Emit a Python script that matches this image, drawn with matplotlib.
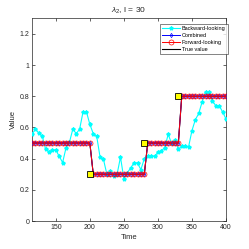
import matplotlib
matplotlib.use("Agg")
import matplotlib.pyplot as plt
from matplotlib.lines import Line2D

plt.rcParams['font.family'] = ['Liberation Sans', 'DejaVu Sans']
plt.rcParams['mathtext.fontset'] = 'custom'
plt.rcParams['mathtext.rm'] = 'Liberation Sans'
plt.rcParams['mathtext.it'] = 'Liberation Sans:italic'

time = list(range(115, 405, 5))
backward = [0.555, 0.59, 0.565, 0.545, 0.46, 0.445, 0.455, 0.455, 0.415, 0.375,
            0.47, 0.505, 0.59, 0.56, 0.59, 0.70, 0.70, 0.62, 0.56, 0.545,
            0.41, 0.395, 0.30, 0.32, 0.29, 0.30, 0.41, 0.27, 0.31, 0.34,
            0.375, 0.37, 0.33, 0.40, 0.42, 0.415, 0.415, 0.44, 0.45, 0.47,
            0.555, 0.50, 0.52, 0.46, 0.48, 0.48, 0.475, 0.58, 0.65, 0.69,
            0.765, 0.83, 0.83, 0.77, 0.74, 0.74, 0.70, 0.655]
true_value = [0.5] * 18 + [0.3] * 16 + [0.5] * 10 + [0.8] * 14
combined = list(true_value)
forward = list(true_value)
change_t = [200, 280, 330]
change_v = [0.3, 0.5, 0.8]

fig = plt.figure(figsize=(2.49, 2.49), dpi=100)
ax = fig.add_axes([0.1285, 0.1124, 0.7791, 0.8141])

h_true, = ax.plot(time, true_value, color='black', lw=0.8, zorder=2)
h_back, = ax.plot(time, backward, color='cyan', lw=0.8, marker='*', ms=2.8,
                  mec='cyan', mfc='cyan', zorder=3)
h_comb, = ax.plot(time, combined, color='blue', lw=0.7, marker='d', ms=2.2,
                  mec='blue', mfc='none', mew=0.5, zorder=4)
h_fwd, = ax.plot(time, forward, color='red', lw=0.7, marker='o', ms=3.6,
                 mec='red', mfc='none', mew=0.5, zorder=5)
ax.plot(change_t, change_v, ls='none', marker='s', ms=4.5, mfc='yellow',
        mec='black', mew=0.6, zorder=6)

ax.set_xlim(115, 400)
ax.set_ylim(0, 1.3)
ax.set_xticks([150, 200, 250, 300, 350, 400])
ax.set_yticks([0, 0.2, 0.4, 0.6, 0.8, 1.0, 1.2])
ax.set_yticklabels(['0', '0.2', '0.4', '0.6', '0.8', '1', '1.2'])
ax.tick_params(direction='in', length=2, width=0.5, labelsize=5, colors='#262626',
               top=True, right=True, pad=2)
for s in ax.spines.values():
    s.set_linewidth(0.5)
    s.set_color('#262626')
ax.set_xlabel('Time', fontsize=5.5, labelpad=2, color='#262626')
ax.set_ylabel('Value', fontsize=5.5, labelpad=2, color='#262626')
ax.set_title(r'$\lambda_2$, l = 30', fontsize=6, pad=4, color='#262626')

leg = ax.legend([h_back, h_comb, h_fwd, h_true],
                ['Backward-looking', 'Combined', 'Forward-looking', 'True value'],
                loc='upper right', bbox_to_anchor=(1.01, 0.972), borderaxespad=0,
                fontsize=4, frameon=True, fancybox=False, handlelength=3.2,
                handletextpad=0.4, borderpad=0.4, labelspacing=0.35)
leg.get_frame().set_edgecolor('#262626')
leg.get_frame().set_linewidth(0.5)
leg.set_zorder(10)

fig.savefig('out.png', dpi=100)
